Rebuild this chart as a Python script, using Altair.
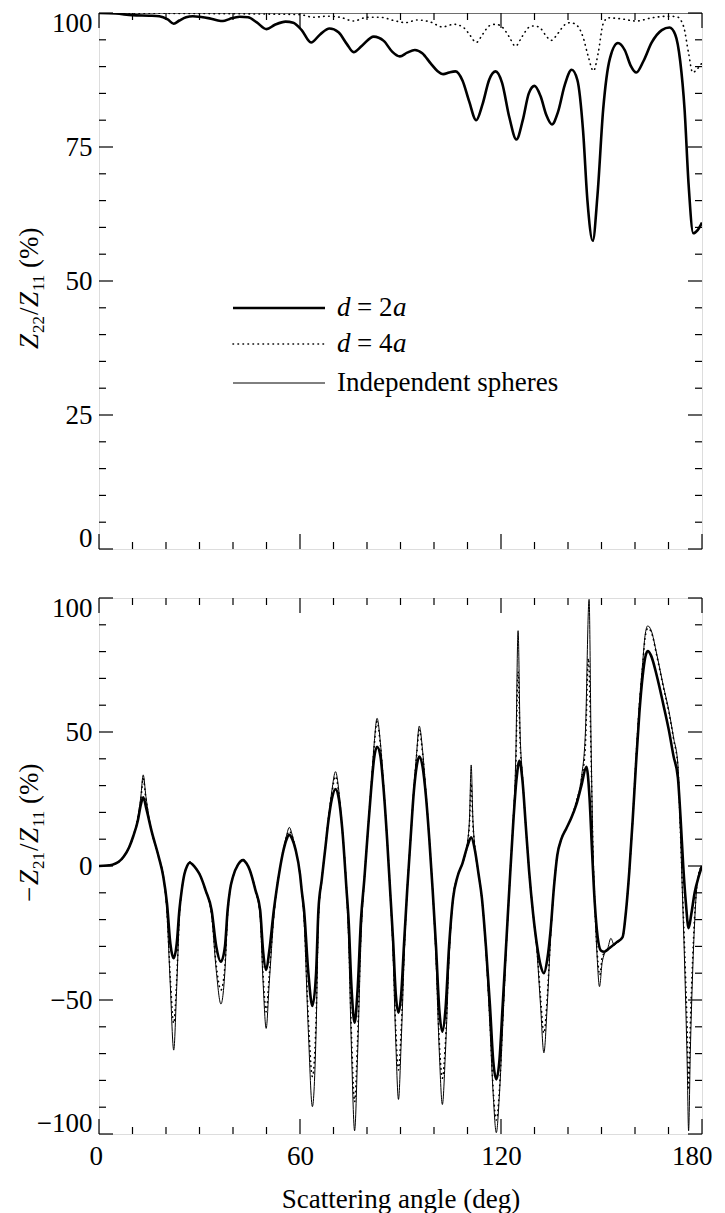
import altair as alt
import pandas as pd

# ---------------- data (angle in deg, value in %) ----------------
top_2a = [(0,100),(5,99.9),(10,99.6),(15,99.5),(18,99.4),(20.5,98.8),(22.3,98.0),(24,98.6),(26,99.2),(28,99.4),
          (30,99.3),(33,99.0),(35.5,98.6),(37,98.5),(39,98.9),(42,99.3),(44.5,99.2),(47,98.3),(50,97.0),(52.5,97.8),
          (55.7,98.4),(58,98.2),(60.5,96.8),(63.3,94.5),(66,96.0),(68.8,97.1),(71.5,96.4),(74,94.2),(76,92.7),(78.5,93.9),
          (82,95.6),(85,94.8),(87.5,92.8),(89.8,91.9),(92,92.6),(94.3,93.1),(96.5,92.5),(99,90.6),(101,89.2),(102.8,88.6),
          (104.5,88.9),(106.4,89.1),(108.5,87.4),(110.5,83.5),(112.6,80.0),(114.5,83),(116.5,87.6),(118.4,89.1),(120.3,87),
          (122.5,80.5),(124.6,76.4),(126.5,80),(128.3,85),(130,86.4),(131.8,84.5),(133.5,81),(135.2,79.2),(137,81.5),
          (139,86.5),(141.1,89.4),(142.8,87.5),(144.5,78),(145.8,65),(147.4,57.5),(148.8,66),(150.5,82),(152.5,91.5),
          (154.9,94.4),(157,93),(158.7,90.2),(160.4,88.9),(162.5,91),(165,94.5),(168,96.8),(170.3,97.3),(172,96),
          (173.5,91),(174.8,82),(176,68),(177.4,58.9),(178.7,59.5),(180,60.9)]

top_4a = [(0,100),(30,99.9),(50,99.8),(60,99.7),(64,99.2),(68,99.4),(72,99.2),(76,98.5),(80,99.2),(84,99.2),
          (88,98.6),(91.5,98.2),(95,98.7),(99,98.3),(102.5,97.4),(106,97.9),(109,97.2),(110.8,95.8),(112.6,94.5),
          (114.5,96),(116.5,97.6),(118.4,97.9),(120.5,97.3),(122.5,95.5),(124.3,93.8),(126.3,95.6),(128.3,97.3),
          (130,97.6),(132,97.0),(133.5,95.7),(135,94.9),(137,96.2),(139,97.8),(140.7,98.2),(142.8,97.6),(144.5,95.5),
          (146,92),(147.6,89.2),(149,92.5),(150.5,98),(152,99.1),(156,98.9),(160.4,98.5),(165,99.1),(170,99.4),
          (172.5,99.3),(174.5,97.5),(176,92.5),(177.2,88.9),(178.5,89.5),(180,90.7)]

top_ind = [(0,100),(180,100)]

bot_2a = [(0,0),(4,0.5),(7.4,3.5),(9,7),(10.2,11),(11.6,17),(12.5,23),(13.2,25.6),(14.2,21),(15.7,13),(17.8,3.5),
          (19.2,-4),(20.3,-14),(21.3,-29),(22.3,-34.4),(23.2,-29),(24,-16.4),(24.7,-9),(25.5,-3),(26.3,0),(27.1,1.2),
          (28,0.5),(29,-1),(30,-3),(31,-6),(31.8,-9),(33.6,-16.4),(35,-30),(36.4,-35.7),(37.6,-30),(38.4,-16.4),
          (39.1,-9),(40,-4),(41.5,0.5),(43,2.2),(44,1),(45,-1.5),(46.7,-9),(48.1,-16.4),(49,-32),(49.9,-38.8),
          (50.8,-32),(52.2,-16.4),(53,-9),(54,-1),(55,5.5),(56,10),(56.8,11.6),(57.7,10),(58.7,6),(60,-3),(60.5,-9),
          (61.2,-16.4),(62.5,-40),(63.7,-52.2),(64.8,-40),(65.5,-16.4),(66.5,-5),(67.5,6),(68.5,17),(69.5,25),
          (70.6,28.7),(71.6,25),(72.6,14),(73.9,-9),(74.5,-20),(75.4,-46),(76.3,-58.5),(77.2,-46),(78.2,-20),
          (79.2,-5),(80.2,12),(81.2,28),(82.1,40),(83,44.5),(84,41),(85,28),(86,10),(86.9,-9),(87.8,-28),(88.6,-48),
          (89.4,-54.7),(90.2,-48),(91.1,-28),(92,-9),(93,10),(94,28),(94.8,37),(95.6,40.8),(96.6,37),(97.6,26),
          (98.6,10),(99.6,-9),(100.6,-30),(101.6,-54),(102.5,-61.8),(103.4,-54),(104.5,-30),(105.7,-12),(107,-4),
          (108.5,1),(110,7.5),(111.1,10.7),(112.2,6),(113.3,-3),(114.3,-12),(115.5,-30),(116.7,-52),(117.7,-73),
          (118.6,-79.6),(119.5,-73),(120.5,-52),(121.6,-28),(122.6,-6),(123.6,15),(124.6,32),(125.5,39.3),
          (126.4,32),(127.4,15),(128.4,-2),(129.6,-18),(130.8,-30),(131.8,-37),(132.8,-40),(133.8,-35),(134.8,-24),
          (135.8,-8),(136.8,4),(138,10),(139.5,14),(141,18),(142.5,23),(144,30),(145.5,37),(146.4,26),(147.2,5),
          (148,-14),(148.8,-26),(149.8,-31.5),(150.8,-32),(152.5,-30.5),(154.5,-28.5),(156.3,-26.5),(157.3,-17),
          (158.3,-2),(159.3,17),(160.3,38),(161.3,57),(162.3,71),(163.0,77.5),(163.8,80.2),(164.8,78.5),(166.5,71),
          (168.5,60),(170.1,50.7),(171.5,41),(172.8,33),(173.6,18),(174.4,0),(175.2,-14),(176,-23.2),(176.8,-18),
          (177.8,-10),(179,-4),(180,0)]

bot_4a = [(0,0),(4,0.5),(7.4,3.5),(9,7),(10.2,11),(11.6,18),(12.5,25),(13.2,32.7),(14.0,25),(15.7,13),(17.8,3.5),
          (19.2,-4),(20.3,-17),(21.3,-42),(22.3,-58.7),(23.2,-42),(24,-18.5),(24.7,-9),(25.5,-3),(26.3,0),(27.1,1.5),
          (28,0.5),(29,-1),(30,-3),(31,-6),(31.8,-9),(33.6,-18),(35,-37),(36.4,-46.3),(37.6,-37),(38.4,-18),
          (39.1,-9),(40,-4),(41.5,0.5),(43,2.4),(44,1),(45,-1.5),(46.7,-9),(48.1,-18),(49,-41),(49.9,-54.4),
          (50.8,-41),(52.2,-18),(53,-9),(54,-1),(55,6),(56,11),(56.8,13),(57.7,11),(58.7,6),(60,-3),(60.5,-9),
          (61.2,-19),(62.5,-57),(63.7,-78.6),(64.8,-57),(65.5,-19),(66.5,-5),(67.5,6),(68.5,18),(69.5,27),
          (70.6,33.5),(71.6,27),(72.6,14),(73.9,-9),(74.5,-25),(75.4,-64),(76.3,-88),(77.2,-64),(78.2,-25),
          (79.2,-5),(80.2,12),(81.2,29),(82.1,44),(83,53.9),(84,45),(85,29),(86,10),(86.9,-9),(87.8,-32),(88.6,-61),
          (89.4,-76.1),(90.2,-61),(91.1,-32),(92,-9),(93,10),(94,29),(94.8,41),(95.6,50.7),(96.6,42),(97.6,27),
          (98.6,10),(99.6,-9),(100.6,-33),(101.6,-66),(102.5,-79.2),(103.4,-66),(104.5,-33),(105.7,-12),(107,-4),
          (108.5,1),(110,8.5),(110.6,16),(111.1,30.8),(111.6,16),(112.2,7),(113.3,-3),(114.3,-12),(115.5,-31),
          (116.7,-58),(117.7,-84),(118.6,-94.8),(119.5,-84),(120.5,-58),(121.6,-29),(122.6,-6),(123.6,16),
          (124.4,36),(125.1,72.5),(125.7,46),(126.4,33),(127.4,15),(128.4,-2),(129.6,-18),(130.8,-32),(131.8,-49),
          (132.8,-62.4),(133.8,-49),(134.8,-26),(135.8,-8),(136.8,4),(138,10),(139.5,14),(141,18),(142.5,24),
          (144,32),(145.2,45),(146.1,77.5),(146.9,40),(147.4,8),(148,-14),(148.7,-32),(149.5,-40.7),(150.2,-34),
          (150.8,-32.5),(152.5,-30.5),(154.5,-28.5),(156.3,-26.5),(157.3,-17),(158.3,-2),(159.3,17),(160.3,40),
          (161.3,60),(162.3,75),(163.0,85),(163.8,88.7),(164.8,87.5),(166.5,78.5),(168.5,66.5),(170.1,57.5),
          (171.5,47.5),(172.8,37),(173.5,15),(174.2,-10),(175,-38),(175.6,-62),(176,-83.6),(176.5,-60),(177.2,-35),
          (178.2,-11),(179,-3),(180,0)]

bot_ind = [(0,0),(4,0.5),(7.4,3.5),(9,7),(10.2,11),(11.6,18),(12.5,26),(13.2,34),(14.0,26),(15.7,13),(17.8,3.5),
           (19.2,-4),(20.3,-18),(21.3,-45),(22.3,-68.7),(23.2,-45),(24,-19),(24.7,-9),(25.5,-3),(26.3,0),(27.1,1.5),
           (28,0.5),(29,-1),(30,-3),(31,-6),(31.8,-9),(33.6,-18),(35,-39),(36.4,-51.5),(37.6,-39),(38.4,-18),
           (39.1,-9),(40,-4),(41.5,0.5),(43,2.5),(44,1),(45,-1.5),(46.7,-9),(48.1,-19),(49,-44),(49.9,-60.6),
           (50.8,-44),(52.2,-19),(53,-9),(54,-1),(55,6),(56,11.5),(56.8,14.4),(57.7,11.5),(58.7,6),(60,-3),(60.5,-9),
           (61.2,-20),(62.5,-62),(63.7,-89.8),(64.8,-62),(65.5,-20),(66.5,-5),(67.5,6),(68.5,18),(69.5,28),
           (70.6,35.2),(71.6,28),(72.6,14),(73.9,-9),(74.5,-28),(75.4,-70),(76.3,-98.8),(77.2,-70),(78.2,-28),
           (79.2,-5),(80.2,12),(81.2,29),(82.1,45),(83,55.1),(84,46),(85,29),(86,10),(86.9,-9),(87.8,-34),(88.6,-66),
           (89.4,-87.1),(90.2,-66),(91.1,-34),(92,-9),(93,10),(94,29),(94.8,42),(95.6,52.2),(96.6,43),(97.6,27),
           (98.6,10),(99.6,-9),(100.6,-35),(101.6,-70),(102.5,-89),(103.4,-70),(104.5,-35),(105.7,-12),(107,-4),
           (108.5,1),(110,9),(110.6,18),(111.1,37.7),(111.6,18),(112.2,7),(113.3,-3),(114.3,-12),(115.5,-32),
           (116.7,-60),(117.7,-86),(118.6,-99.5),(119.5,-86),(120.5,-60),(121.6,-30),(122.6,-6),(123.6,16),
           (124.4,40),(125.1,87.8),(125.7,50),(126.4,34),(127.4,15),(128.4,-2),(129.6,-18),(130.8,-33),(131.8,-52),
           (132.8,-69.7),(133.8,-52),(134.8,-27),(135.8,-8),(136.8,4),(138,10),(139.5,14),(141,18),(142.5,24),
           (144,33),(145.2,50),(146.3,99.5),(146.9,45),(147.4,10),(148,-14),(148.7,-34),(149.4,-45),(150.2,-36),
           (150.8,-33),(151.8,-31),(152.8,-27),(153.8,-29.5),(154.8,-28.5),(156.3,-26.5),(157.3,-17),(158.3,-2),
           (159.3,17),(160.3,40),(161.3,60),(162.3,76),(163.0,86),(163.8,89.6),(164.8,88),(166.5,79),(168.5,67),
           (170.1,58),(171.5,48),(172.8,38),(173.5,15),(174.2,-12),(175,-45),(175.6,-75),(176,-98.8),(176.5,-70),
           (177.2,-40),(178.2,-12),(179,-3),(180,0)]

x_major = [0, 60, 120, 180]
x_minor = [10, 20, 30, 40, 50, 70, 80, 90, 100, 110, 130, 140, 150, 160, 170]
ytop_major = [0, 25, 50, 75, 100]
ytop_minor = [5, 10, 15, 20, 30, 35, 40, 45, 55, 60, 65, 70, 80, 85, 90, 95]
ybot_major = [-100, -50, 0, 50, 100]
ybot_minor = [-90, -80, -70, -60, -40, -30, -20, -10, 10, 20, 30, 40, 60, 70, 80, 90]

# ---------------- styling ----------------
W, H = 603, 536
FONT = "Liberation Serif"
FS = 27
MAJ, MIN = 14, 7
FLUSH = 3

xscale = alt.Scale(domain=[0, 180], nice=False, zero=False)
ytop_scale = alt.Scale(domain=[0, 100], nice=False, zero=False)
ybot_scale = alt.Scale(domain=[-100, 100], nice=False, zero=False)

dummy = pd.DataFrame({"k": [0]})


def df_of(pairs):
    return pd.DataFrame({"angle": [p[0] for p in pairs], "value": [p[1] for p in pairs]})


def yaxis(vals):
    return alt.Axis(values=vals, ticks=False, tickSize=0, domain=False, grid=False, labelFlush=True,
                    labelFlushOffset=FLUSH, labelFont=FONT, labelFontSize=FS, labelColor="black",
                    labelPadding=7, title=None)


ytop_axis = yaxis(ytop_major)
ybot_axis = yaxis(ybot_major)
XTITLE = "Scattering angle (deg)"
xbot_axis = alt.Axis(values=x_major, ticks=False, tickSize=0, domain=False, grid=False,
                     labelFlush=True, labelFlushOffset=10,
                     labelFont=FONT, labelFontSize=FS, labelColor="black", labelPadding=9,
                     title=XTITLE, titleFont=FONT, titleFontSize=FS,
                     titleFontWeight="normal", titleColor="black", titlePadding=17)


def xenc(field, xaxis):
    return alt.X(field, scale=xscale, axis=xaxis, title=None if xaxis is None else XTITLE)


def line(pairs, yscale, width, xaxis, yax, dash=None):
    kw = dict(color="black", strokeWidth=width, interpolate="monotone", clip=True)
    if dash:
        kw["strokeDash"] = dash
        kw["strokeCap"] = "round"
    return alt.Chart(df_of(pairs)).mark_line(**kw).encode(
        x=xenc("angle:Q", xaxis),
        y=alt.Y("value:Q", scale=yscale, axis=yax, title=None),
    )


def xticks(vals, length, xaxis):
    d = pd.DataFrame({"t": vals})
    bot = alt.Chart(d).mark_rule(color="black", strokeWidth=1.2).encode(
        x=xenc("t:Q", xaxis), y=alt.value(H), y2=alt.value(H - length))
    top = alt.Chart(d).mark_rule(color="black", strokeWidth=1.2).encode(
        x=xenc("t:Q", xaxis), y=alt.value(0), y2=alt.value(length))
    return [bot, top]


def yticks(vals, yscale, length, yax):
    d = pd.DataFrame({"t": vals})
    left = alt.Chart(d).mark_rule(color="black", strokeWidth=1.2).encode(
        y=alt.Y("t:Q", scale=yscale, axis=yax, title=None), x=alt.value(0), x2=alt.value(length))
    right = alt.Chart(d).mark_rule(color="black", strokeWidth=1.2).encode(
        y=alt.Y("t:Q", scale=yscale, axis=yax, title=None), x=alt.value(W), x2=alt.value(W - length))
    return [left, right]


def txt(s, x, y, size=FS, style="normal", angle=0, align="left", baseline="middle"):
    return alt.Chart(dummy).mark_text(text=s, font=FONT, fontSize=size, fontStyle=style, angle=angle,
                                      align=align, baseline=baseline, color="black").encode(
        x=alt.value(x), y=alt.value(y))


def rule_px(x1, x2, y, width, dash=None):
    kw = dict(color="black", strokeWidth=width)
    if dash:
        kw["strokeDash"] = dash
        kw["strokeCap"] = "round"
    return alt.Chart(dummy).mark_rule(**kw).encode(x=alt.value(x1), x2=alt.value(x2), y=alt.value(y))


THICK, THIN, DOT = 2.6, 1.0, 1.6
DASH = [0.5, 4.5]

# ---------------- top panel ----------------
top_layers = (
    [line(top_ind, ytop_scale, THIN, None, ytop_axis),
     line(top_4a, ytop_scale, DOT, None, ytop_axis, DASH),
     line(top_2a, ytop_scale, THICK, None, ytop_axis)]
    + xticks(x_major, 15, None) + xticks(x_minor, MIN, None)
    + yticks(ytop_major, ytop_scale, MAJ, ytop_axis) + yticks(ytop_minor, ytop_scale, MIN, ytop_axis)
    + [
        # legend
        rule_px(134, 226, 295, THICK), txt("d", 238, 295, style="italic"), txt("= 2", 258, 295),
        txt("a", 294, 295, style="italic"),
        rule_px(134, 226, 331, DOT, DASH), txt("d", 238, 331, style="italic"), txt("= 4", 258, 331),
        txt("a", 294, 331, style="italic"),
        rule_px(134, 226, 370, THIN), txt("Independent spheres", 238, 370),
        # y title  Z22/Z11 (%)
        txt("Z", -61, 336, style="italic", angle=270, baseline="alphabetic"),
        txt("22", -55, 320, size=17, angle=270, baseline="alphabetic"),
        txt("/", -61, 302, angle=270, baseline="alphabetic"),
        txt("Z", -61, 294, style="italic", angle=270, baseline="alphabetic"),
        txt("11", -55, 278, size=17, angle=270, baseline="alphabetic"),
        txt("(%)", -61, 255, angle=270, baseline="alphabetic"),
    ]
)
top = alt.layer(*top_layers).properties(width=W, height=H)

# ---------------- bottom panel ----------------
bot_layers = (
    [line(bot_ind, ybot_scale, THIN, xbot_axis, ybot_axis),
     line(bot_4a, ybot_scale, DOT, xbot_axis, ybot_axis, DASH),
     line(bot_2a, ybot_scale, THICK, xbot_axis, ybot_axis)]
    + xticks(x_major, 15, xbot_axis) + xticks(x_minor, MIN, xbot_axis)
    + yticks(ybot_major, ybot_scale, MAJ, ybot_axis) + yticks(ybot_minor, ybot_scale, MIN, ybot_axis)
    + [
        txt("\u2212", -61, 304, angle=270, baseline="alphabetic"),
        txt("Z", -61, 287, style="italic", angle=270, baseline="alphabetic"),
        txt("21", -55, 271, size=17, angle=270, baseline="alphabetic"),
        txt("/", -61, 253, angle=270, baseline="alphabetic"),
        txt("Z", -61, 245, style="italic", angle=270, baseline="alphabetic"),
        txt("11", -55, 229, size=17, angle=270, baseline="alphabetic"),
        txt("(%)", -61, 206, angle=270, baseline="alphabetic"),
    ]
)
bottom = alt.layer(*bot_layers).properties(width=W, height=H)

chart = (
    alt.vconcat(top, bottom, spacing=41)
    .properties(padding={"left": 7, "top": 0, "right": 0, "bottom": 0})
    .configure_view(stroke="black", strokeWidth=1.5)
    .configure(background="white")
)

chart.save("out.html", embed_options={"renderer": "svg", "actions": False})
